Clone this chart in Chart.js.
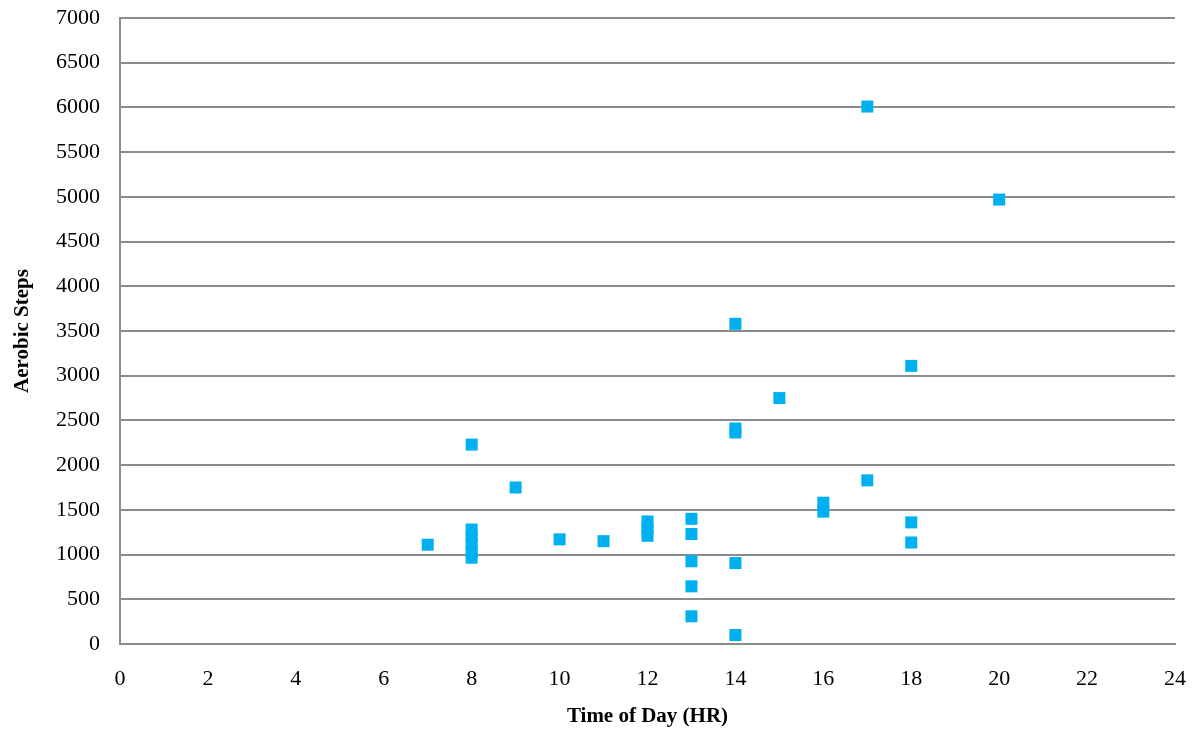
<!DOCTYPE html>
<html>
<head>
<meta charset="utf-8">
<script src="https://cdn.jsdelivr.net/npm/chart.js@4"></script>
<style>
  html, body { margin: 0; padding: 0; background: #fff; }
  #wrap { width: 1199px; height: 732px; }
</style>
</head>
<body>
<div id="wrap"><canvas id="stepsChart" width="1199" height="732"></canvas></div>
<script>
// hour of day for each recorded session
const hours = [
  7,
  8, 8, 8, 8, 8, 8,
  9, 10, 11,
  12, 12, 12,
  13, 13, 13, 13, 13,
  14, 14, 14, 14, 14,
  15, 16, 16,
  17, 17,
  18, 18, 18,
  20
];
// aerobic steps for each session (same order)
const steps = [
  1110,
  2230, 1280, 1200, 1120, 1040, 965,
  1750, 1170, 1150,
  1370, 1290, 1210,
  1400, 1230, 925, 645, 310,
  3580, 2410, 2365, 905, 100,
  2750, 1580, 1480,
  6010, 1830,
  3110, 1360, 1135,
  4970
];

const points = hours.map((h, i) => ({ x: h, y: steps[i] }));

const serif = "'Liberation Serif', 'Times New Roman', serif";

new Chart(document.getElementById("stepsChart"), {
  type: "scatter",
  data: {
    datasets: [{
      label: "Aerobic Steps",
      data: points,
      pointStyle: "rect",
      pointRadius: 8.5,
      pointHoverRadius: 8.5,
      backgroundColor: "#00b0f0",
      borderColor: "#00b0f0",
      borderWidth: 0
    }]
  },
  options: {
    responsive: false,
    animation: false,
    layout: { padding: 0 },
    plugins: {
      legend: { display: false },
      tooltip: { enabled: false }
    },
    scales: {
      x: {
        type: "linear",
        min: 0,
        max: 24,
        ticks: {
          stepSize: 2,
          padding: 22,
          color: "#000",
          font: { family: serif, size: 22 }
        },
        grid: { display: false, drawTicks: false },
        border: { display: true, color: "#8c8c8c", width: 2 },
        title: {
          display: true,
          text: "Time of Day (HR)",
          color: "#000",
          font: { family: serif, size: 21, weight: "bold" },
          padding: { top: 2, bottom: 3 }
        },
        afterFit: (scale) => {
          scale.height = 88;
          scale.paddingLeft = 0;
          scale.paddingRight = 24;
        }
      },
      y: {
        min: 0,
        max: 7000,
        ticks: {
          stepSize: 500,
          padding: 20,
          color: "#000",
          font: { family: serif, size: 22 },
          callback: (v) => String(v)
        },
        grid: { color: "#8c8c8c", lineWidth: 2, drawTicks: false },
        border: { display: true, color: "#8c8c8c", width: 2 },
        title: {
          display: true,
          text: "Aerobic Steps",
          color: "#000",
          font: { family: serif, size: 21, weight: "bold" },
          padding: { top: 10, bottom: 0 }
        },
        afterFit: (scale) => {
          scale.width = 120;
          scale.paddingTop = 18;
          scale.paddingBottom = 0;
        }
      }
    }
  }
});
</script>
</body>
</html>
